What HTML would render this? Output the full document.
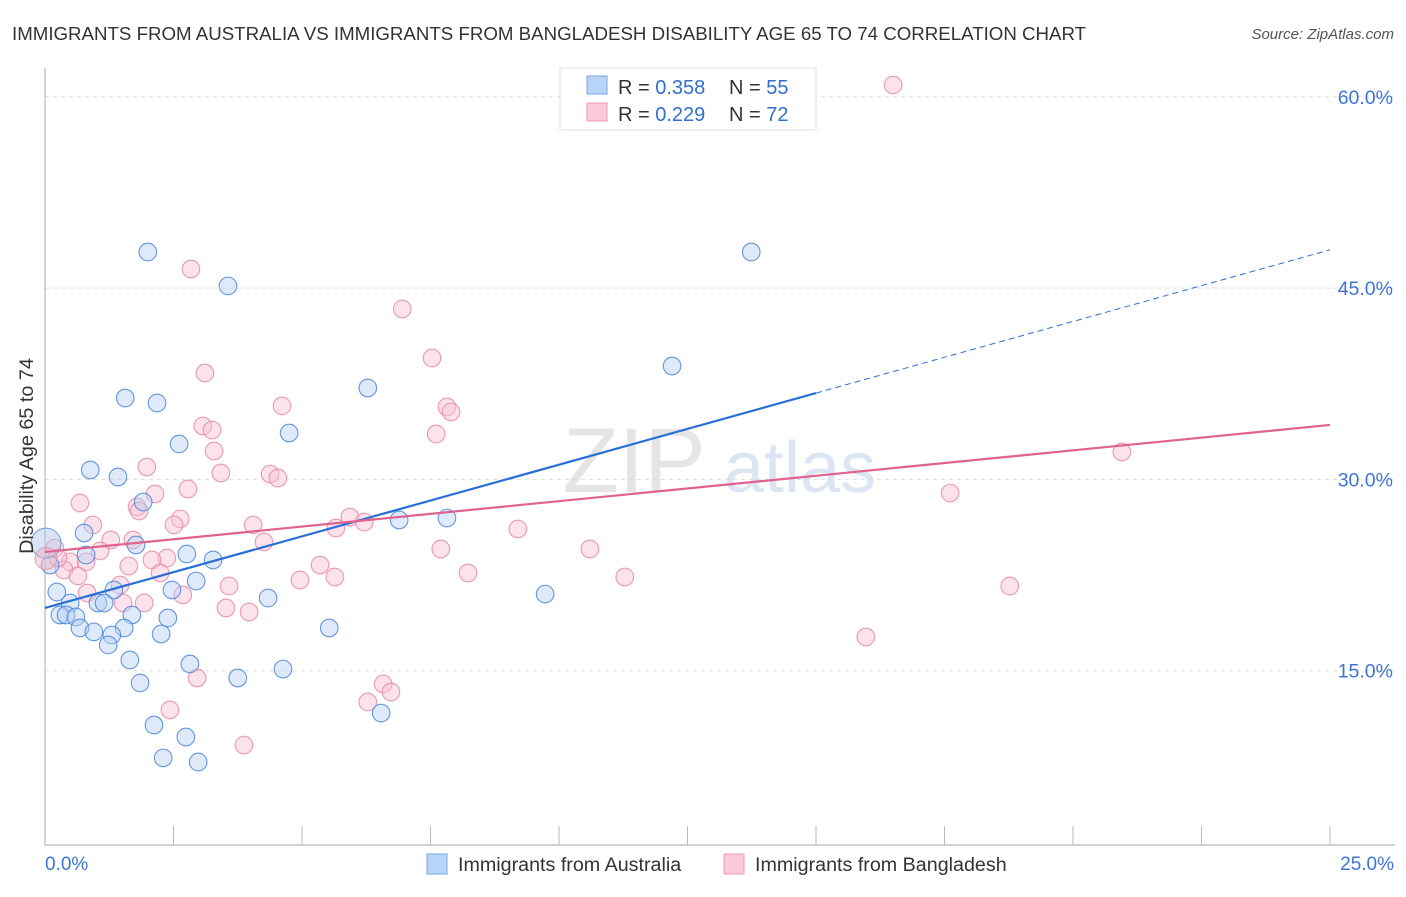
<!DOCTYPE html>
<html><head><meta charset="utf-8"><style>
body{margin:0;background:#fff;font-family:"Liberation Sans",sans-serif;}
svg text{font-family:"Liberation Sans",sans-serif;}
</style></head><body>
<svg id="chart" width="1406" height="892" viewBox="0 0 1406 892" xmlns="http://www.w3.org/2000/svg">
<text x="12" y="40" font-size="18.7" fill="#333">IMMIGRANTS FROM AUSTRALIA VS IMMIGRANTS FROM BANGLADESH DISABILITY AGE 65 TO 74 CORRELATION CHART</text>
<text x="1394" y="39" font-size="15" fill="#555" font-style="italic" text-anchor="end">Source: ZipAtlas.com</text>
<g opacity="0.5">
<text x="634" y="492" font-size="92" fill="#ccc" font-family="Liberation Serif" text-anchor="middle">ZIP</text>
<text x="800" y="492" font-size="72" fill="#b8cde8" text-anchor="middle">atlas</text>
</g>
<g id="grid"></g>
<g id="axes"></g>
<g id="marks"></g>
<text transform="translate(33,456) rotate(-90)" font-size="19.8" fill="#333" text-anchor="middle">Disability Age 65 to 74</text>
<g>
<rect x="560" y="68" width="256" height="62" fill="#fff" stroke="#ddd"/>
<rect x="587" y="76" width="20" height="18" fill="#b8d4f7" stroke="#7aa6e0"/>
<text x="618" y="94" font-size="20" fill="#333">R = <tspan fill="#2f6fd1">0.358</tspan></text>
<text x="729" y="94" font-size="20" fill="#333">N = <tspan fill="#2f6fd1">55</tspan></text>
<rect x="587" y="103" width="20" height="18" fill="#fbc9d8" stroke="#ec9ab5"/>
<text x="618" y="121" font-size="20" fill="#333">R = <tspan fill="#2f6fd1">0.229</tspan></text>
<text x="729" y="121" font-size="20" fill="#333">N = <tspan fill="#2f6fd1">72</tspan></text>
</g>
<g>
<rect x="427" y="854" width="20" height="20" fill="#b8d4f7" stroke="#7aa6e0"/>
<text x="458" y="871" font-size="19.7" fill="#333">Immigrants from Australia</text>
<rect x="724" y="854" width="20" height="20" fill="#fbc9d8" stroke="#ec9ab5"/>
<text x="755" y="871" font-size="19.7" fill="#333">Immigrants from Bangladesh</text>
</g>
</svg>
<script>
const yTicks=[15,30,45,60];
const yTickLabels=["15.0%","30.0%","45.0%","60.0%"];
const xTickLabels=["0.0%","25.0%"];
const blueX=[2.00,3.56,13.74,12.20,1.56,2.18,6.28,2.61,4.75,0.88,1.42,1.91,6.89,7.82,0.76,1.77,2.76,3.27,0.80,2.94,2.47,1.34,4.34,9.73,0.23,0.49,1.03,1.15,0.29,0.41,0.60,1.69,2.39,1.54,0.68,0.95,1.30,2.26,1.23,5.53,1.65,2.82,4.63,1.85,3.75,2.12,6.54,2.74,2.30,2.98,0.10];
const blueY=[47.83,45.17,47.83,38.89,36.38,35.99,37.17,32.78,33.64,30.74,30.19,28.23,26.82,26.97,25.80,24.86,24.15,23.68,24.07,22.03,21.33,21.33,20.70,21.01,21.17,20.31,20.31,20.31,19.37,19.37,19.21,19.37,19.13,18.35,18.35,18.04,17.80,17.88,17.02,18.35,15.84,15.53,15.13,14.04,14.43,10.74,11.68,9.80,8.16,7.84,23.29];
const pinkX=[16.50,2.84,6.95,7.53,3.11,4.61,7.82,7.90,3.07,3.25,7.61,3.29,20.95,1.98,4.38,4.53,3.42,2.78,2.14,0.68,1.79,17.61,1.83,2.63,5.93,6.21,2.51,0.93,4.05,5.66,9.20,1.28,1.71,4.26,1.07,7.70,10.60,2.37,2.08,0.49,0.80,0.37,1.63,5.35,0.64,2.24,8.23,11.28,4.96,5.64,1.46,18.77,3.58,2.68,0.82,1.93,1.52,3.52,3.97,15.97,2.96,6.58,6.73,6.28,2.43,3.87,0.19,0.25];
const pinkY=[60.93,46.50,43.36,39.52,38.34,35.76,35.68,35.29,34.19,33.87,33.56,32.23,32.15,30.97,30.42,30.11,30.50,29.25,28.86,28.15,27.84,28.93,27.52,26.90,27.05,26.66,26.43,26.43,26.43,26.19,26.11,25.25,25.25,25.09,24.39,24.54,24.54,23.84,23.68,23.53,23.53,22.90,23.21,23.29,22.43,22.66,22.66,22.35,22.11,22.35,21.72,21.64,21.64,20.94,21.09,20.31,20.31,19.92,19.60,17.64,14.43,13.96,13.33,12.55,11.92,9.17,24.62,23.84];
const bigBlue=[0.02,25.0];
const bigPink=[0.02,23.8];
const blueLine=[19.92,48.0];
const pinkLine=[24.31,34.27];
const X=v=>45+v/25*1285;
const Y=v=>862-v/15*191.3;
const NS="http://www.w3.org/2000/svg";
function mk(tag,attrs,parent){const e=document.createElementNS(NS,tag);for(const k in attrs)e.setAttribute(k,attrs[k]);parent.appendChild(e);return e;}
const grid=document.getElementById('grid'),axes=document.getElementById('axes'),marks=document.getElementById('marks');
yTicks.forEach((t,i)=>{
 const l=mk('line',{x1:45,x2:1395,y1:Y(t),y2:Y(t),stroke:'#ddd','stroke-dasharray':'4,4'},grid);
 
 
 const tx=mk('text',{x:1393,y:Y(t)+7,'font-size':19.5,fill:'#3f74d6','text-anchor':'end'},axes);
 tx.textContent=yTickLabels[i];
 
 
});
const ya=mk('line',{x1:45,x2:45,y1:68,y2:845,stroke:'#aaa'},axes);


const xa=mk('line',{x1:45,x2:1395,y1:845,y2:845,stroke:'#aaa'},axes);


for(let i=1;i<=10;i++){const t=mk('line',{x1:X(i*2.5),x2:X(i*2.5),y1:826,y2:845,stroke:'#bbb'},axes);
 
 }
[[0,'start',45],[25,'end',1394]].forEach((a,i)=>{const t=mk('text',{x:a[2],y:870,'font-size':19,fill:'#3f74d6','text-anchor':a[1]},axes);t.textContent=xTickLabels[i];
 
 });
function dots(xs,ys,fill,stroke,name){xs.forEach((x,i)=>{const c=mk('circle',{cx:X(x),cy:Y(ys[i]),r:8.8,fill:fill,'fill-opacity':0.45,stroke:stroke,'stroke-width':1.1,'stroke-opacity':0.85},marks);
 
 });}
dots(pinkX,pinkY,'#f9c0d2','#e887a8','point-bangladesh');
dots(blueX,blueY,'#b5d0f3','#4a86d8','point-australia');
const bb=mk('circle',{cx:X(bigBlue[0]),cy:Y(bigBlue[1]),r:15,fill:'#b5c8ee','fill-opacity':0.5,stroke:'#4a86d8','stroke-opacity':0.8},marks);


const bp=mk('circle',{cx:X(bigPink[0]),cy:Y(bigPink[1]),r:11,fill:'#e8b5c8','fill-opacity':0.5,stroke:'#e887a8','stroke-opacity':0.8},marks);


const slope=(blueLine[1]-blueLine[0])/25;
const bl=mk('line',{x1:X(0),y1:Y(blueLine[0]),x2:X(15),y2:Y(blueLine[0]+slope*15),stroke:'#2a6fd6','stroke-width':2.2},marks);


const bd=mk('line',{x1:X(15),y1:Y(blueLine[0]+slope*15),x2:X(25),y2:Y(blueLine[1]),stroke:'#2a6fd6','stroke-width':1,'stroke-dasharray':'6,4'},marks);


const pl=mk('line',{x1:X(0),y1:Y(pinkLine[0]),x2:X(25),y2:Y(pinkLine[1]),stroke:'#e0628e','stroke-width':2.2},marks);


</script>
</body></html>
